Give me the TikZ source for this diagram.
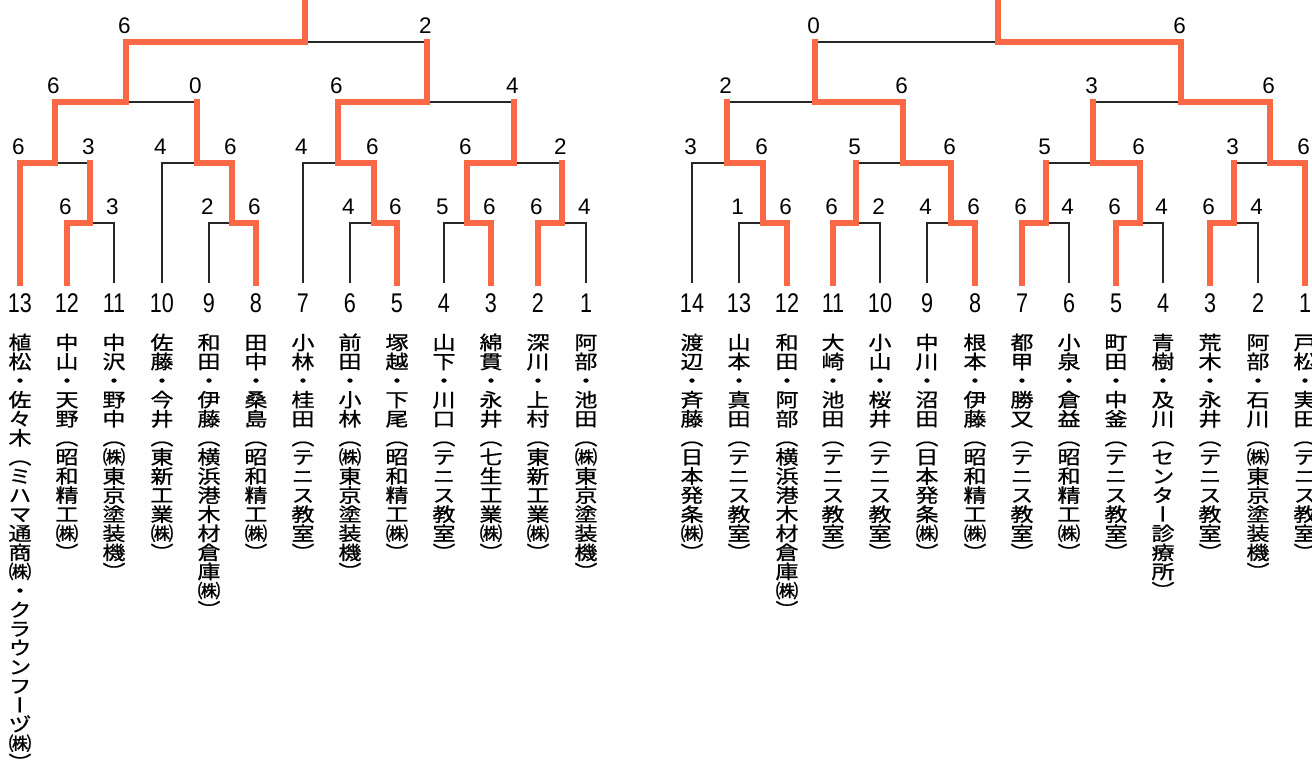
\documentclass[tikz,border=0pt]{standalone}
\usepackage{fontspec}
\setmainfont{Liberation Sans}
\newfontfamily\cjk[RawFeature=+vert,FakeBold=0.8]{Noto Sans CJK JP}
\usepackage{graphicx}
\definecolor{tred}{RGB}{250,104,70}

% vertical column of characters
\makeatletter
\newcommand\tate[1]{\scalebox{1}[0.83]{\vbox{\offinterlineskip\@tfor\tate@c:=#1\do{\hbox to 1em{\hss\tate@c\hss\vrule height 0.86em depth 0.14em width 0pt}}}}}
\makeatother
\newcommand\seed[1]{\scalebox{0.8}[1]{#1}}

\begin{document}
\begin{tikzpicture}[x=1pt,y=-1pt,
	win/.style={line width=6.2pt, draw=tred, line cap=rect},
	lose/.style={line width=1.1pt, draw=black!85},
	score/.style={anchor=south, inner sep=0pt, yshift=8pt, xshift=-1.5pt, font=\fontsize{22.5}{22.5}\selectfont},
	num/.style={inner sep=0pt, font=\fontsize{27}{27}\selectfont},
	pair/.style={anchor=north, inner sep=0pt, font=\cjk\fontsize{23}{23}\selectfont}]

		\useasboundingbox (0,0) rectangle (1312,760);
		\clip (0,0) rectangle (1312,760);
		\fill[white] (0,0) rectangle (1312,760);

		% left block
		\node[num](L13) at (20,303){\seed{13}};   \coordinate (L13b) at (20,283);
		\node[num](L12) at (67,303){\seed{12}};   \coordinate (L12b) at (67,283);
		\node[num](L11) at (114,303){\seed{11}};  \coordinate (L11b) at (114,283);
		\node[num](L10) at (162,303){\seed{10}};  \coordinate (L10b) at (162,283);
		\node[num](L9) at (209,303){\seed{9}};    \coordinate (L9b) at (209,283);
		\node[num](L8) at (256,303){\seed{8}};    \coordinate (L8b) at (256,283);
		\node[num](L7) at (303,303){\seed{7}};    \coordinate (L7b) at (303,283);
		\node[num](L6) at (350,303){\seed{6}};    \coordinate (L6b) at (350,283);
		\node[num](L5) at (397,303){\seed{5}};    \coordinate (L5b) at (397,283);
		\node[num](L4) at (444,303){\seed{4}};    \coordinate (L4b) at (444,283);
		\node[num](L3) at (491,303){\seed{3}};    \coordinate (L3b) at (491,283);
		\node[num](L2) at (538,303){\seed{2}};    \coordinate (L2b) at (538,283);
		\node[num](L1) at (586,303){\seed{1}};    \coordinate (L1b) at (586,283);

		\node[pair](L13n) at (20,333){\tate{植松・佐々木（ミハマ通商㈱・クラウンフーヅ㈱）}};
		\node[pair](L12n) at (67,333){\tate{中山・天野（昭和精工㈱）}};
		\node[pair](L11n) at (114,333){\tate{中沢・野中（㈱東京塗装機）}};
		\node[pair](L10n) at (162,333){\tate{佐藤・今井（東新工業㈱）}};
		\node[pair](L9n) at (209,333){\tate{和田・伊藤（横浜港木材倉庫㈱）}};
		\node[pair](L8n) at (256,333){\tate{田中・桑島（昭和精工㈱）}};
		\node[pair](L7n) at (303,333){\tate{小林・桂田（テニス教室）}};
		\node[pair](L6n) at (350,333){\tate{前田・小林（㈱東京塗装機）}};
		\node[pair](L5n) at (397,333){\tate{塚越・下尾（昭和精工㈱）}};
		\node[pair](L4n) at (444,333){\tate{山下・川口（テニス教室）}};
		\node[pair](L3n) at (491,333){\tate{綿貫・永井（七生工業㈱）}};
		\node[pair](L2n) at (538,333){\tate{深川・上村（東新工業㈱）}};
		\node[pair](L1n) at (586,333){\tate{阿部・池田（㈱東京塗装機）}};

		\coordinate (LA) at (90,223);
		\coordinate (LB) at (232,223);
		\coordinate (LC) at (374,223);
		\coordinate (LD) at (467,223);
		\coordinate (LE) at (562,223);
		\coordinate (LF) at (55,163);
		\coordinate (LG) at (197,163);
		\coordinate (LH) at (338,163);
		\coordinate (LI) at (514,163);
		\coordinate (LJ) at (126,102);
		\coordinate (LK) at (427,102);
		\coordinate (LL) at (305,42);
		\coordinate (LT) at (305,0);

		\draw[lose] (L11b) |- (LA);
		\draw[win] (L12b) |- (LA);
		\node[score](sL12) at (LA -| L12b){6};
		\node[score](sL11) at (LA -| L11b){3};

		\draw[lose] (L9b) |- (LB);
		\draw[win] (L8b) |- (LB);
		\node[score](sL9) at (LB -| L9b){2};
		\node[score](sL8) at (LB -| L8b){6};

		\draw[lose] (L6b) |- (LC);
		\draw[win] (L5b) |- (LC);
		\node[score](sL6) at (LC -| L6b){4};
		\node[score](sL5) at (LC -| L5b){6};

		\draw[lose] (L4b) |- (LD);
		\draw[win] (L3b) |- (LD);
		\node[score](sL4) at (LD -| L4b){5};
		\node[score](sL3) at (LD -| L3b){6};

		\draw[lose] (L1b) |- (LE);
		\draw[win] (L2b) |- (LE);
		\node[score](sL2) at (LE -| L2b){6};
		\node[score](sL1) at (LE -| L1b){4};

		\draw[lose] (LA |- LF) -- (LF);
		\draw[win] (LA) -- (LA |- LF);
		\draw[win] (L13b) |- (LF);
		\node[score](sL13) at (LF -| L13b){6};
		\node[score](sLA) at (LF -| LA){3};

		\draw[lose] (L10b) |- (LG);
		\draw[win] (LB) |- (LG);
		\node[score](sL10) at (LG -| L10b){4};
		\node[score](sLB) at (LG -| LB){6};

		\draw[lose] (L7b) |- (LH);
		\draw[win] (LC) |- (LH);
		\node[score](sL7) at (LH -| L7b){4};
		\node[score](sLC) at (LH -| LC){6};

		\draw[lose] (LE |- LI) -- (LI);
		\draw[win] (LE) -- (LE |- LI);
		\draw[win] (LD) |- (LI);
		\node[score](sLD) at (LI -| LD){6};
		\node[score](sLE) at (LI -| LE){2};

		\draw[lose] (LG |- LJ) -- (LJ);
		\draw[win] (LG) -- (LG |- LJ);
		\draw[win] (LF) |- (LJ);
		\node[score](sLF) at (LJ -| LF){6};
		\node[score](sLG) at (LJ -| LG){0};

		\draw[lose] (LI |- LK) -- (LK);
		\draw[win] (LI) -- (LI |- LK);
		\draw[win] (LH) |- (LK);
		\node[score](sLH) at (LK -| LH){6};
		\node[score](sLI) at (LK -| LI){4};

		\draw[lose] (LK |- LL) -- (LL);
		\draw[win] (LK) -- (LK |- LL);
		\draw[win] (LJ) |- (LL);
		\node[score](sLJ) at (LL -| LJ){6};
		\node[score](sLK) at (LL -| LK){2};

		\draw[win] (LL) -- (LT);

		% right block
		\node[num](R14) at (692,303){\seed{14}};  \coordinate (R14b) at (692,283);
		\node[num](R13) at (739,303){\seed{13}};  \coordinate (R13b) at (739,283);
		\node[num](R12) at (787,303){\seed{12}};  \coordinate (R12b) at (787,283);
		\node[num](R11) at (833,303){\seed{11}};  \coordinate (R11b) at (833,283);
		\node[num](R10) at (880,303){\seed{10}};  \coordinate (R10b) at (880,283);
		\node[num](R9) at (927,303){\seed{9}};    \coordinate (R9b) at (927,283);
		\node[num](R8) at (975,303){\seed{8}};    \coordinate (R8b) at (975,283);
		\node[num](R7) at (1022,303){\seed{7}};   \coordinate (R7b) at (1022,283);
		\node[num](R6) at (1069,303){\seed{6}};   \coordinate (R6b) at (1069,283);
		\node[num](R5) at (1116,303){\seed{5}};   \coordinate (R5b) at (1116,283);
		\node[num](R4) at (1163,303){\seed{4}};   \coordinate (R4b) at (1163,283);
		\node[num](R3) at (1210,303){\seed{3}};   \coordinate (R3b) at (1210,283);
		\node[num](R2) at (1258,303){\seed{2}};   \coordinate (R2b) at (1258,283);
		\node[num](R1) at (1305,303){\seed{1}};   \coordinate (R1b) at (1305,283);

		\node[pair](R14n) at (692,333){\tate{渡辺・斉藤（日本発条㈱）}};
		\node[pair](R13n) at (739,333){\tate{山本・真田（テニス教室）}};
		\node[pair](R12n) at (787,333){\tate{和田・阿部（横浜港木材倉庫㈱）}};
		\node[pair](R11n) at (833,333){\tate{大崎・池田（テニス教室）}};
		\node[pair](R10n) at (880,333){\tate{小山・桜井（テニス教室）}};
		\node[pair](R9n) at (927,333){\tate{中川・沼田（日本発条㈱）}};
		\node[pair](R8n) at (975,333){\tate{根本・伊藤（昭和精工㈱）}};
		\node[pair](R7n) at (1022,333){\tate{都甲・勝又（テニス教室）}};
		\node[pair](R6n) at (1069,333){\tate{小泉・倉益（昭和精工㈱）}};
		\node[pair](R5n) at (1116,333){\tate{町田・中釜（テニス教室）}};
		\node[pair](R4n) at (1163,333){\tate{青樹・及川（センター診療所）}};
		\node[pair](R3n) at (1210,333){\tate{荒木・永井（テニス教室）}};
		\node[pair](R2n) at (1258,333){\tate{阿部・石川（㈱東京塗装機）}};
		\node[pair](R1n) at (1305,333){\tate{戸松・実田（テニス教室）}};

		\coordinate (RA) at (763,223);
		\coordinate (RB) at (856,223);
		\coordinate (RC) at (951,223);
		\coordinate (RD) at (1046,223);
		\coordinate (RE) at (1140,223);
		\coordinate (RF) at (1234,223);
		\coordinate (RG) at (727,163);
		\coordinate (RH) at (903,163);
		\coordinate (RI) at (1093,163);
		\coordinate (RJ) at (1270,163);
		\coordinate (RK) at (815,102);
		\coordinate (RL) at (1181,102);
		\coordinate (RM) at (998,42);
		\coordinate (RT) at (998,0);

		\draw[lose] (R13b) |- (RA);
		\draw[win] (R12b) |- (RA);
		\node[score](sR13) at (RA -| R13b){1};
		\node[score](sR12) at (RA -| R12b){6};

		\draw[lose] (R10b) |- (RB);
		\draw[win] (R11b) |- (RB);
		\node[score](sR11) at (RB -| R11b){6};
		\node[score](sR10) at (RB -| R10b){2};

		\draw[lose] (R9b) |- (RC);
		\draw[win] (R8b) |- (RC);
		\node[score](sR9) at (RC -| R9b){4};
		\node[score](sR8) at (RC -| R8b){6};

		\draw[lose] (R6b) |- (RD);
		\draw[win] (R7b) |- (RD);
		\node[score](sR7) at (RD -| R7b){6};
		\node[score](sR6) at (RD -| R6b){4};

		\draw[lose] (R4b) |- (RE);
		\draw[win] (R5b) |- (RE);
		\node[score](sR5) at (RE -| R5b){6};
		\node[score](sR4) at (RE -| R4b){4};

		\draw[lose] (R2b) |- (RF);
		\draw[win] (R3b) |- (RF);
		\node[score](sR3) at (RF -| R3b){6};
		\node[score](sR2) at (RF -| R2b){4};

		\draw[lose] (R14b) |- (RG);
		\draw[win] (RA) |- (RG);
		\node[score](sR14) at (RG -| R14b){3};
		\node[score](sRA) at (RG -| RA){6};

		\draw[lose] (RB |- RH) -- (RH);
		\draw[win] (RB) -- (RB |- RH);
		\draw[win] (RC) |- (RH);
		\node[score](sRB) at (RH -| RB){5};
		\node[score](sRC) at (RH -| RC){6};

		\draw[lose] (RD |- RI) -- (RI);
		\draw[win] (RD) -- (RD |- RI);
		\draw[win] (RE) |- (RI);
		\node[score](sRD) at (RI -| RD){5};
		\node[score](sRE) at (RI -| RE){6};

		\draw[lose] (RF |- RJ) -- (RJ);
		\draw[win] (RF) -- (RF |- RJ);
		\draw[win] (R1b) |- (RJ);
		\node[score](sRF) at (RJ -| RF){3};
		\node[score](sR1) at (RJ -| R1b){6};

		\draw[lose] (RG |- RK) -- (RK);
		\draw[win] (RG) -- (RG |- RK);
		\draw[win] (RH) |- (RK);
		\node[score](sRG) at (RK -| RG){2};
		\node[score](sRH) at (RK -| RH){6};

		\draw[lose] (RI |- RL) -- (RL);
		\draw[win] (RI) -- (RI |- RL);
		\draw[win] (RJ) |- (RL);
		\node[score](sRI) at (RL -| RI){3};
		\node[score](sRJ) at (RL -| RJ){6};

		\draw[lose] (RK |- RM) -- (RM);
		\draw[win] (RK) -- (RK |- RM);
		\draw[win] (RL) |- (RM);
		\node[score](sRK) at (RM -| RK){0};
		\node[score](sRL) at (RM -| RL){6};

		\draw[win] (RM) -- (RT);

	\end{tikzpicture}
\end{document}
